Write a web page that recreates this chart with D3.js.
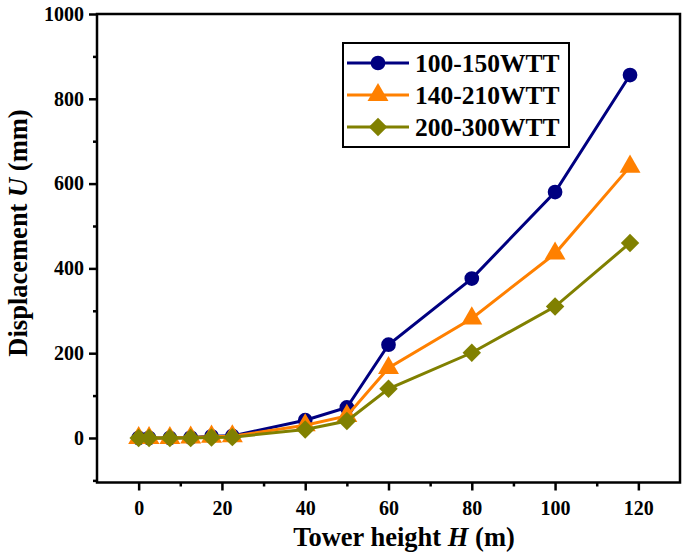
<!DOCTYPE html>
<html><head><meta charset="utf-8">
<script src="https://cdn.jsdelivr.net/npm/d3@7/dist/d3.min.js"></script>
<style>body{margin:0;background:#fff}svg{display:block}</style>
</head><body>
<svg id="c" width="685" height="555"></svg>
<script>
const heights = [0, 2.5, 7.5, 12.5, 17.5, 22.5, 40, 50, 60, 80, 100, 118];
const seriesNames = ["100-150WTT", "140-210WTT", "200-300WTT"];
const u100 = [0, 0, 0, 1, 4, 5, 42, 72, 220, 376, 580, 856];
const u140 = [0, 0, 0, 1, 3, 4, 30, 52, 165, 282, 435, 640];
const u200 = [0, 0, 0, 0, 1, 2, 20, 40, 116, 201, 310, 460];
const xTicks = [0, 20, 40, 60, 80, 100, 120];
const yTicks = [0, 200, 400, 600, 800, 1000];
const colors = ["#000080", "#FF8000", "#808000"];

const squareDiamond = {
  draw(ctx, size) {
    const r = Math.sqrt(size / 2);
    ctx.moveTo(0, -r); ctx.lineTo(r, 0); ctx.lineTo(0, r); ctx.lineTo(-r, 0); ctx.closePath();
  }
};
const symbols = [d3.symbolCircle, d3.symbolTriangle, squareDiamond];
const symSizes = [170, 190, 170];

const svg = d3.select("#c");
const L = 97, R = 680, T = 14, B = 482.5;
const x = d3.scaleLinear().domain([-10, 130]).range([L, R]);
const y = d3.scaleLinear().domain([-105, 1000]).range([B, T]);
const font = "'Liberation Serif','Times New Roman',serif";

// frame
svg.append("rect").attr("x", L).attr("y", T).attr("width", R - L).attr("height", B - T)
  .attr("fill", "none").attr("stroke", "#000").attr("stroke-width", 2.5);

// x axis
const xMinor = d3.range(-10, 131, 10).filter(v => !xTicks.includes(v) && v > -10 && v < 130);
const gx = svg.append("g").attr("transform", `translate(0,${B})`);
gx.call(d3.axisBottom(x).tickValues(xTicks).tickSize(8).tickPadding(10).tickFormat(d3.format("d")));
gx.append("g").call(d3.axisBottom(x).tickValues(xMinor).tickSize(4).tickFormat(""));
// y axis
const yMinor = d3.range(-100, 1001, 100).filter(v => !yTicks.includes(v));
const gy = svg.append("g").attr("transform", `translate(${L},0)`);
gy.call(d3.axisLeft(y).tickValues(yTicks).tickSize(8).tickPadding(5).tickFormat(d3.format("d")));
gy.append("g").call(d3.axisLeft(y).tickValues(yMinor).tickSize(4).tickFormat(""));
svg.selectAll(".domain").remove();
svg.selectAll(".tick line").attr("stroke", "#000").attr("stroke-width", 2.5);
svg.selectAll(".tick text").attr("font-family", font).attr("font-weight", "bold")
  .attr("font-size", 20).attr("fill", "#000");

// axis titles
const xt = svg.append("text").attr("x", 404).attr("y", 546).attr("text-anchor", "middle")
  .attr("font-family", font).attr("font-weight", "bold").attr("font-size", 26.5);
xt.append("tspan").text("Tower height ");
xt.append("tspan").attr("font-style", "italic").text("H");
xt.append("tspan").text(" (m)");

const yt = svg.append("text").attr("transform", `translate(27,233) rotate(-90)`)
  .attr("text-anchor", "middle").attr("font-family", font).attr("font-weight", "bold").attr("font-size", 26.5);
yt.append("tspan").text("Displacement ");
yt.append("tspan").attr("font-style", "italic").text("U");
yt.append("tspan").text(" (mm)");

// series
const data = [u100, u140, u200];
const line = d3.line().x(d => x(d[0])).y(d => y(d[1]));
data.forEach((vals, i) => {
  const pts = heights.map((h, j) => [h, vals[j]]);
  const g = svg.append("g");
  g.append("path").attr("d", line(pts)).attr("fill", "none").attr("stroke", colors[i]).attr("stroke-width", 3);
  g.selectAll("path.m").data(pts).join("path").attr("class", "m")
    .attr("d", d3.symbol().type(symbols[i]).size(symSizes[i]))
    .attr("transform", d => `translate(${x(d[0])},${y(d[1])})`)
    .attr("fill", colors[i]);
});

// legend
const lg = svg.append("g");
lg.append("rect").attr("x", 343).attr("y", 43).attr("width", 226).attr("height", 104)
  .attr("fill", "#fff").attr("stroke", "#000").attr("stroke-width", 2);
seriesNames.forEach((n, i) => {
  const cy = 63 + i * 32;
  lg.append("line").attr("x1", 347).attr("x2", 409).attr("y1", cy).attr("y2", cy)
    .attr("stroke", colors[i]).attr("stroke-width", 3);
  lg.append("path").attr("d", d3.symbol().type(symbols[i]).size(symSizes[i])())
    .attr("transform", `translate(378,${cy})`).attr("fill", colors[i]);
  lg.append("text").attr("x", 415).attr("y", cy + 9).attr("font-family", font)
    .attr("font-weight", "bold").attr("font-size", 25.5).text(n);
});
</script>
</body></html>
